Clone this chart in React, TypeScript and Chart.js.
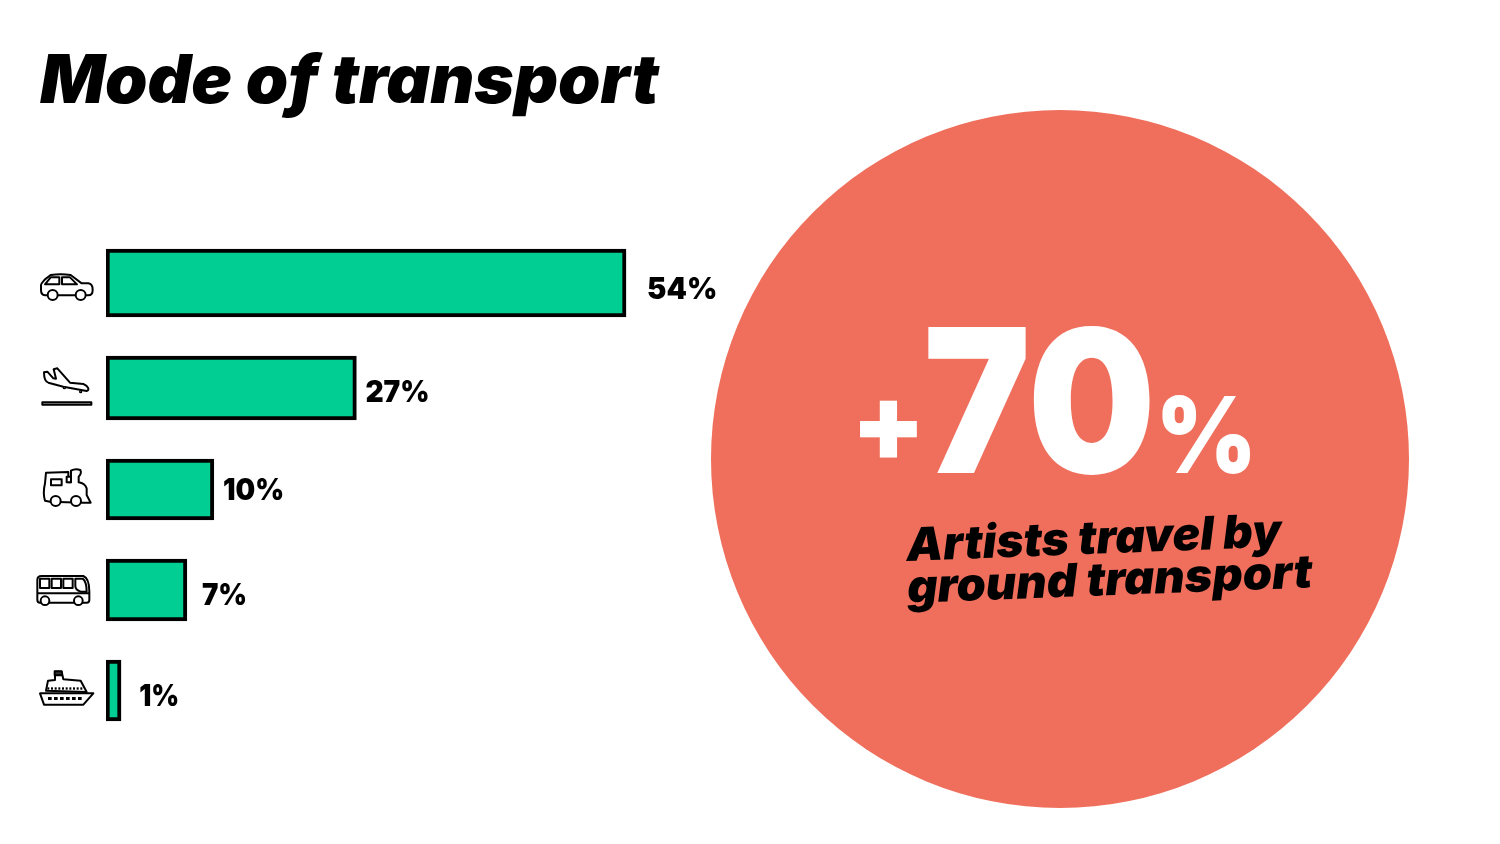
import React, { useEffect, useRef } from "react";
import { Chart, registerables } from "chart.js";

Chart.register(...registerables);

const categories = ["Car", "Plane", "Train", "Bus", "Boat"];
const valueLabels = ["54%", "27%", "10%", "7%", "1%"];
// Bar lengths as drawn in the picture (the artwork is not strictly proportional to its labels).
const barLengths = [54, 26, 11.2, 8.4, 1.56];
const rowPositions = [0.83, 1.88, 2.895, 3.9, 4.905];
const barThicknesses = [68, 64, 61, 62, 61];
const titleText = "Mode of transport";
const calloutValue = ["+", "70", "%"];
const calloutLines = ["Artists travel by", "ground transport"];

const TEAL = "#00CE93";
const CORAL = "#EF6F5C";
const FONT = "Inter, 'Noto Sans', sans-serif";

// gap after bar end, baseline below bar centre, ink width
const labelPlacement = [
  [22, 15.5, 68],
  [10, 13.5, 62],
  [10, 10, 59],
  [15, 15, 44],
  [19, 15.5, 38],
];

function fit(ctx: CanvasRenderingContext2D, text: string, x0: number, x1: number, base: number, font: string, color: string) {
  ctx.save();
  ctx.font = font;
  ctx.fillStyle = color;
  ctx.textAlign = "left";
  ctx.textBaseline = "alphabetic";
  const m = ctx.measureText(text);
  const ink = m.actualBoundingBoxRight + m.actualBoundingBoxLeft;
  const s = (x1 - x0) / ink;
  ctx.translate(x0 + m.actualBoundingBoxLeft * s, base);
  ctx.scale(s, 1);
  ctx.fillText(text, 0, 0);
  ctx.restore();
}

type Icon = { dy: number; draw: (c: CanvasRenderingContext2D) => void };
function strokeP(c: CanvasRenderingContext2D, d: string, fill = "#fff") {
  const p = new Path2D(d);
  c.fillStyle = fill;
  c.fill(p);
  c.stroke(p);
}
function wheel(c: CanvasRenderingContext2D, x: number, y: number, r: number) {
  c.beginPath();
  c.arc(x, y, r, 0, Math.PI * 2);
  c.fillStyle = "#fff";
  c.fill();
  c.stroke();
}
const icons: Icon[] = [
  {
    dy: -43,
    draw: (c) => {
      strokeP(c, "M75 166C66 165 63 158 63 150L63 135C63 130 70 124 75 118L92 105C110 102 135 102 152 105L185 130L205 130C215 131 218 140 218 150C218 160 213 166 205 166Z");
      strokeP(c, "M75 133L92 112L118 112L118 133Z");
      strokeP(c, "M126 112L150 112L171 133L126 133Z");
      wheel(c, 98, 165, 15);
      wheel(c, 182, 165, 15);
    },
  },
  {
    dy: -148,
    draw: (c) => {
      strokeP(c, "M72 397L82 395L100 415L108 416L101 388L112 385L150 428L190 432C205 438 210 450 200 453L130 440L85 428C75 425 72 415 72 397Z");
      strokeP(c, "M67 487L214 487L214 494L67 494Z", "#ccc");
      wheel(c, 133, 443, 2);
      wheel(c, 182, 455, 2);
    },
  },
  {
    dy: -39.5,
    draw: (c) => {
      strokeP(c, "M78 68L145 66L145 97L153 97L153 62Q166 54 181 60Q186 70 176 80L176 97Q195 100 200 115L200 135L212 158L190 158L90 155L75 152Q68 130 75 100Z");
      strokeP(c, "M93 88L125 88L125 106L93 106Z");
      strokeP(c, "M140 80L153 80L153 97L140 97Z");
      wheel(c, 107, 153, 15);
      wheel(c, 168, 153, 15);
    },
  },
  {
    dy: -140,
    draw: (c) => {
      strokeP(c, "M65 378L190 378Q208 385 208 425L208 450Q208 458 200 458L60 458Q52 458 52 450L52 390Q52 378 65 378Z");
      strokeP(c, "M60 386L88 386L88 414L60 414Z");
      strokeP(c, "M95 386L123 386L123 414L95 414Z");
      strokeP(c, "M130 386L158 386L158 414L130 414Z");
      strokeP(c, "M166 386L188 386Q200 395 200 425L182 425Q166 420 166 408Z");
      strokeP(c, "M52 430L208 430");
      wheel(c, 75, 452, 13);
      wheel(c, 175, 452, 13);
    },
  },
  {
    dy: -240.5,
    draw: (c) => {
      strokeP(c, "M78 722L84 692L105 690L105 665L125 665L130 688L182 692L200 726Z");
      strokeP(c, "M104 664L125 664L126 676L104 676Z", "#333");
      strokeP(c, "M60 730L220 730L190 764L72 764Z");
      c.fillStyle = "#000";
      for (const x of [84, 102, 120, 138, 156, 174]) c.fillRect(x, 741, 11, 9);
      for (const x of [82, 93, 104, 115, 126, 137, 148, 159, 170, 181]) c.fillRect(x, 712, 6, 7);
    },
  },
];

const decor = {
  id: "decor",
  beforeDatasetsDraw(chart: any) {
    const c: CanvasRenderingContext2D = chart.ctx;
    c.save();
    c.fillStyle = CORAL;
    c.beginPath();
    c.arc(1060, 459, 349, 0, Math.PI * 2);
    c.fill();
    c.restore();

    fit(c, titleText, 40, 660, 103, `italic 900 67px ${FONT}`, "#000");

    fit(c, calloutValue[0], 860, 917, 461, `900 108px ${FONT}`, "#fff");
    fit(c, calloutValue[1], 928, 1150, 473, `900 200px ${FONT}`, "#fff");
    fit(c, calloutValue[2], 1162, 1250, 473, `900 106px ${FONT}`, "#fff");

    c.save();
    c.translate(905, 561);
    c.rotate((-2.2 * Math.PI) / 180);
    fit(c, calloutLines[0], 0, 380, 0, `italic 900 46px ${FONT}`, "#000");
    fit(c, calloutLines[1], 0, 408, 42, `italic 900 46px ${FONT}`, "#000");
    c.restore();
  },
  afterDatasetsDraw(chart: any) {
    const c: CanvasRenderingContext2D = chart.ctx;
    categories.forEach((_, i) => {
      const el = chart.getDatasetMeta(i).data[0];
      const [gap, drop, w] = labelPlacement[i];
      const x0 = el.x + gap;
      fit(c, valueLabels[i], x0, x0 + w, el.y + drop, `900 30px ${FONT}`, "#000");
      c.save();
      c.translate(20, el.y + icons[i].dy);
      c.scale(1 / 3, 1 / 3);
      c.strokeStyle = "#000";
      c.lineWidth = 6;
      c.lineJoin = "round";
      icons[i].draw(c);
      c.restore();
    });
  },
};

export default function App() {
  const ref = useRef<HTMLCanvasElement>(null);
  useEffect(() => {
    const chart = new Chart(ref.current as HTMLCanvasElement, {
      type: "bar",
      data: {
        datasets: categories.map((label, i) => ({
          label,
          data: [{ x: barLengths[i], y: rowPositions[i] }],
          barThickness: barThicknesses[i],
          grouped: false,
          backgroundColor: TEAL,
          borderColor: "#000",
          borderWidth: 4,
          borderSkipped: false,
        })),
      } as any,
      options: {
        indexAxis: "y",
        responsive: false,
        animation: false,
        layout: { padding: { left: 106, right: 431, top: 200, bottom: 104 } },
        scales: {
          x: { type: "linear", min: 0, max: 100, display: false },
          y: { type: "linear", min: 0, max: 5.4, reverse: true, display: false, offset: false },
        },
        plugins: { legend: { display: false }, tooltip: { enabled: false }, title: { display: false } },
      } as any,
      plugins: [decor],
    });
    return () => chart.destroy();
  }, []);
  return (
    <div style={{ position: "absolute", left: 0, top: 0, width: 1500, height: 844, background: "#fff" }}>
      <canvas ref={ref} width={1500} height={844} style={{ display: "block" }} />
    </div>
  );
}
